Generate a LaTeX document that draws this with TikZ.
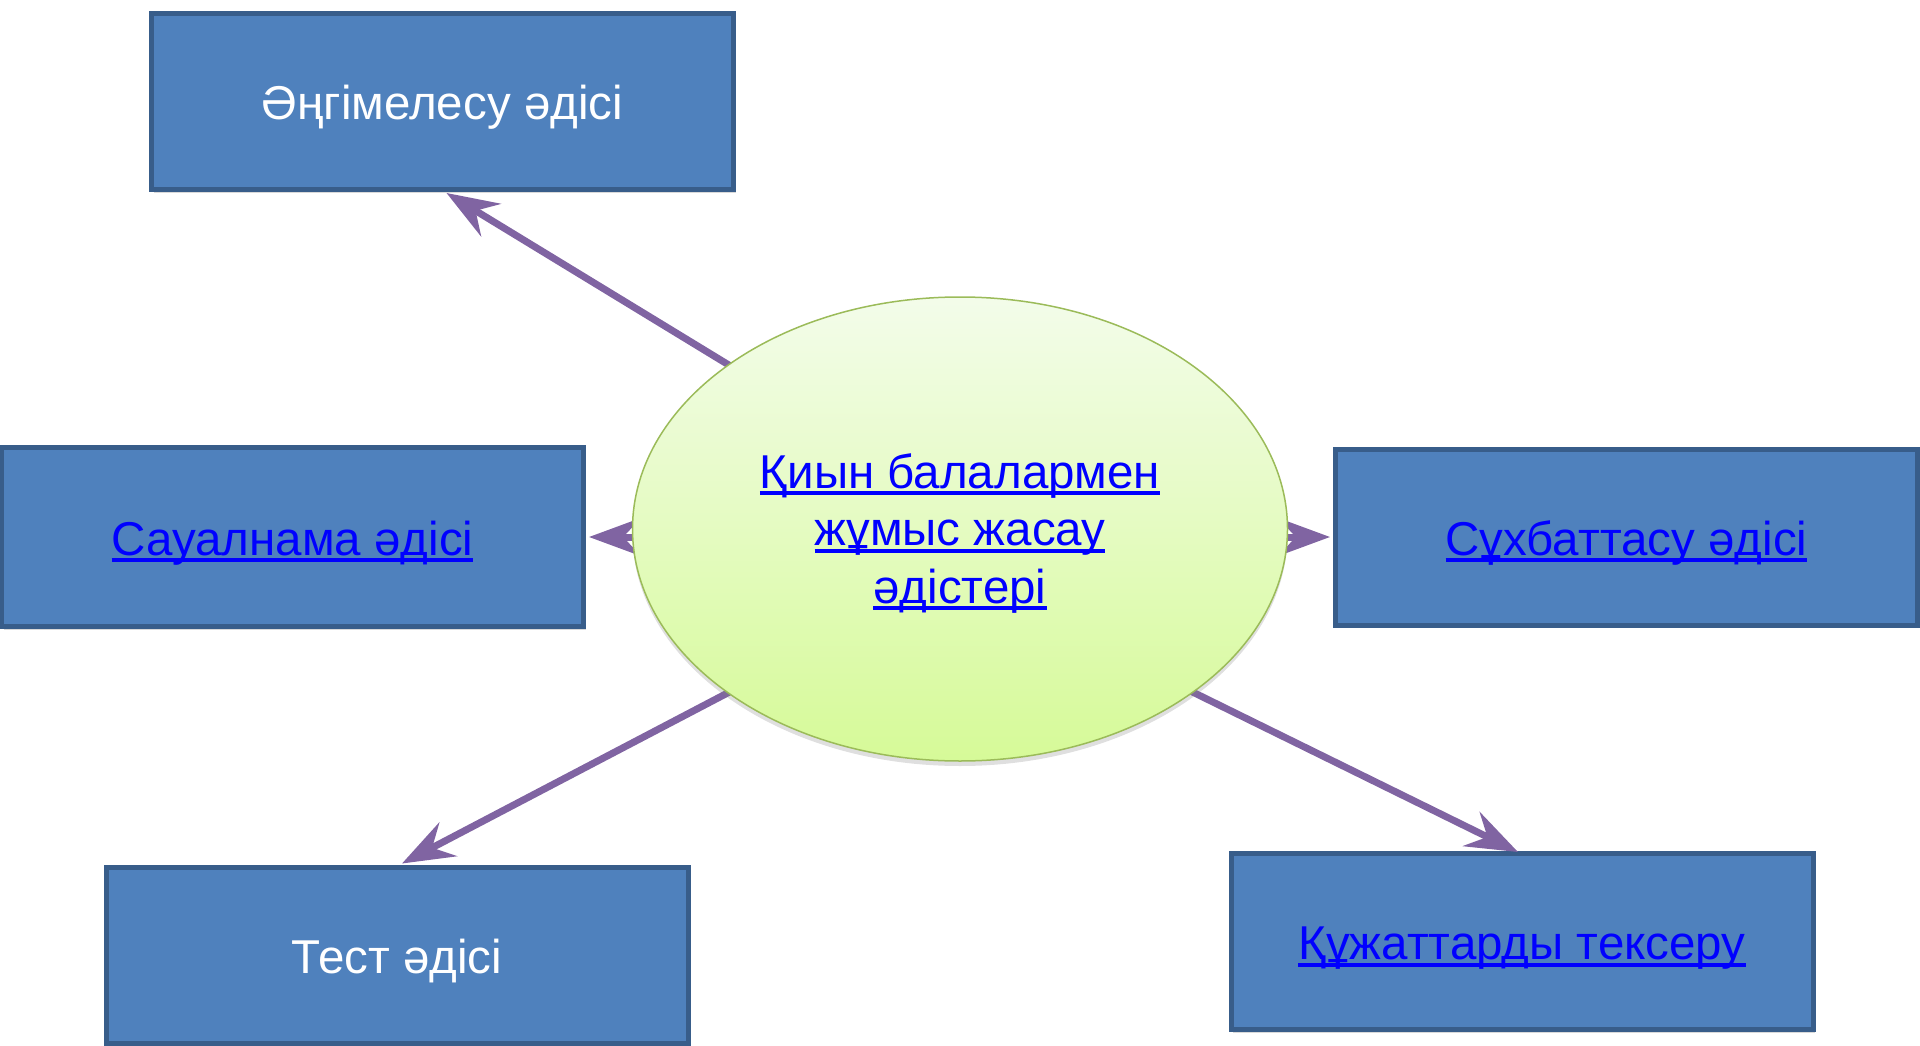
\documentclass[tikz,border=0pt]{standalone}
\usepackage{fontspec}
\setmainfont{Liberation Sans}
\newsavebox{\ulbox}
\newcommand{\ulink}[1]{\sbox{\ulbox}{#1}\rlap{\rule[-7pt]{\wd\ulbox}{4pt}}\usebox{\ulbox}}
\usetikzlibrary{shapes.geometric,arrows.meta,shadows,backgrounds}
\definecolor{boxfill}{HTML}{4F81BD}
\definecolor{boxdraw}{HTML}{385D8A}
\definecolor{arrowc}{HTML}{8064A2}
\definecolor{elldraw}{HTML}{9BBB59}
\definecolor{elltop}{HTML}{F3FCEA}
\definecolor{ellbot}{HTML}{D6FA98}
\definecolor{linkc}{HTML}{0000FF}
\tikzset{
  methodbox/.style={rectangle, fill=boxfill, draw=boxdraw, line width=5pt,
    minimum width=582pt, minimum height=176pt, inner sep=0pt,
    text height=40pt, text depth=4pt,
    font=\fontsize{47.5}{56}\selectfont,
    drop shadow={shadow xshift=2pt, shadow yshift=-3pt, opacity=0.3}},
  plaintext/.style={text=white},
  linktext/.style={text=linkc},
  centre/.style={ellipse, draw=elldraw, line width=1.5pt, top color=elltop, bottom color=ellbot,
    minimum width=655pt, minimum height=464pt, inner sep=0pt,
    text=linkc, font=\fontsize{47.5}{57.5}\selectfont,
    drop shadow={shadow xshift=0pt, shadow yshift=-5pt, opacity=0.25}},
  link/.style={draw=arrowc, line width=7pt,
    -{Stealth[length=52pt,width=38pt,inset=18pt]}}
}
\begin{document}
\begin{tikzpicture}[x=1pt,y=-1pt]
\useasboundingbox (0,0) rectangle (1920,1046);
\node[methodbox, plaintext] (top) at (442.5,101.5) {Әңгімелесу әдісі};
\node[methodbox, linktext, minimum height=179pt] (left) at (292.5,537) {\ulink{Сауалнама әдісі}};
\node[methodbox, linktext] (right) at (1626.5,537) {\ulink{Сұхбаттасу әдісі}};
\node[methodbox, plaintext] (bl) at (397,955) {Тест әдісі};
\node[methodbox, linktext] (br) at (1522,941.5) {\ulink{Құжаттарды тексеру}};
\coordinate (t1) at (760,384);
\coordinate (t2) at (650,537);
\coordinate (t3) at (1270,537);
\coordinate (t4) at (760,676);
\coordinate (t5) at (1160,676);
\draw[link] (t1) -- ([xshift=4pt,yshift=-1pt]top.south);
\draw[link] (t2) -- ([xshift=3pt]left.east);
\draw[link] (t3) -- ([xshift=-3pt]right.west);
\draw[link] (t4) -- ([xshift=5pt,yshift=1pt]bl.north);
\draw[link] (t5) -- ([xshift=-4pt,yshift=-1pt]br.north);
\node[centre] (c) at (960,529) {\raisebox{0pt}[\dimexpr\height+10pt\relax][\depth]{\begin{tabular}{@{}c@{}}\ulink{Қиын балалармен}\\\ulink{жұмыс жасау}\\\ulink{әдістері}\end{tabular}}};
\end{tikzpicture}
\end{document}
